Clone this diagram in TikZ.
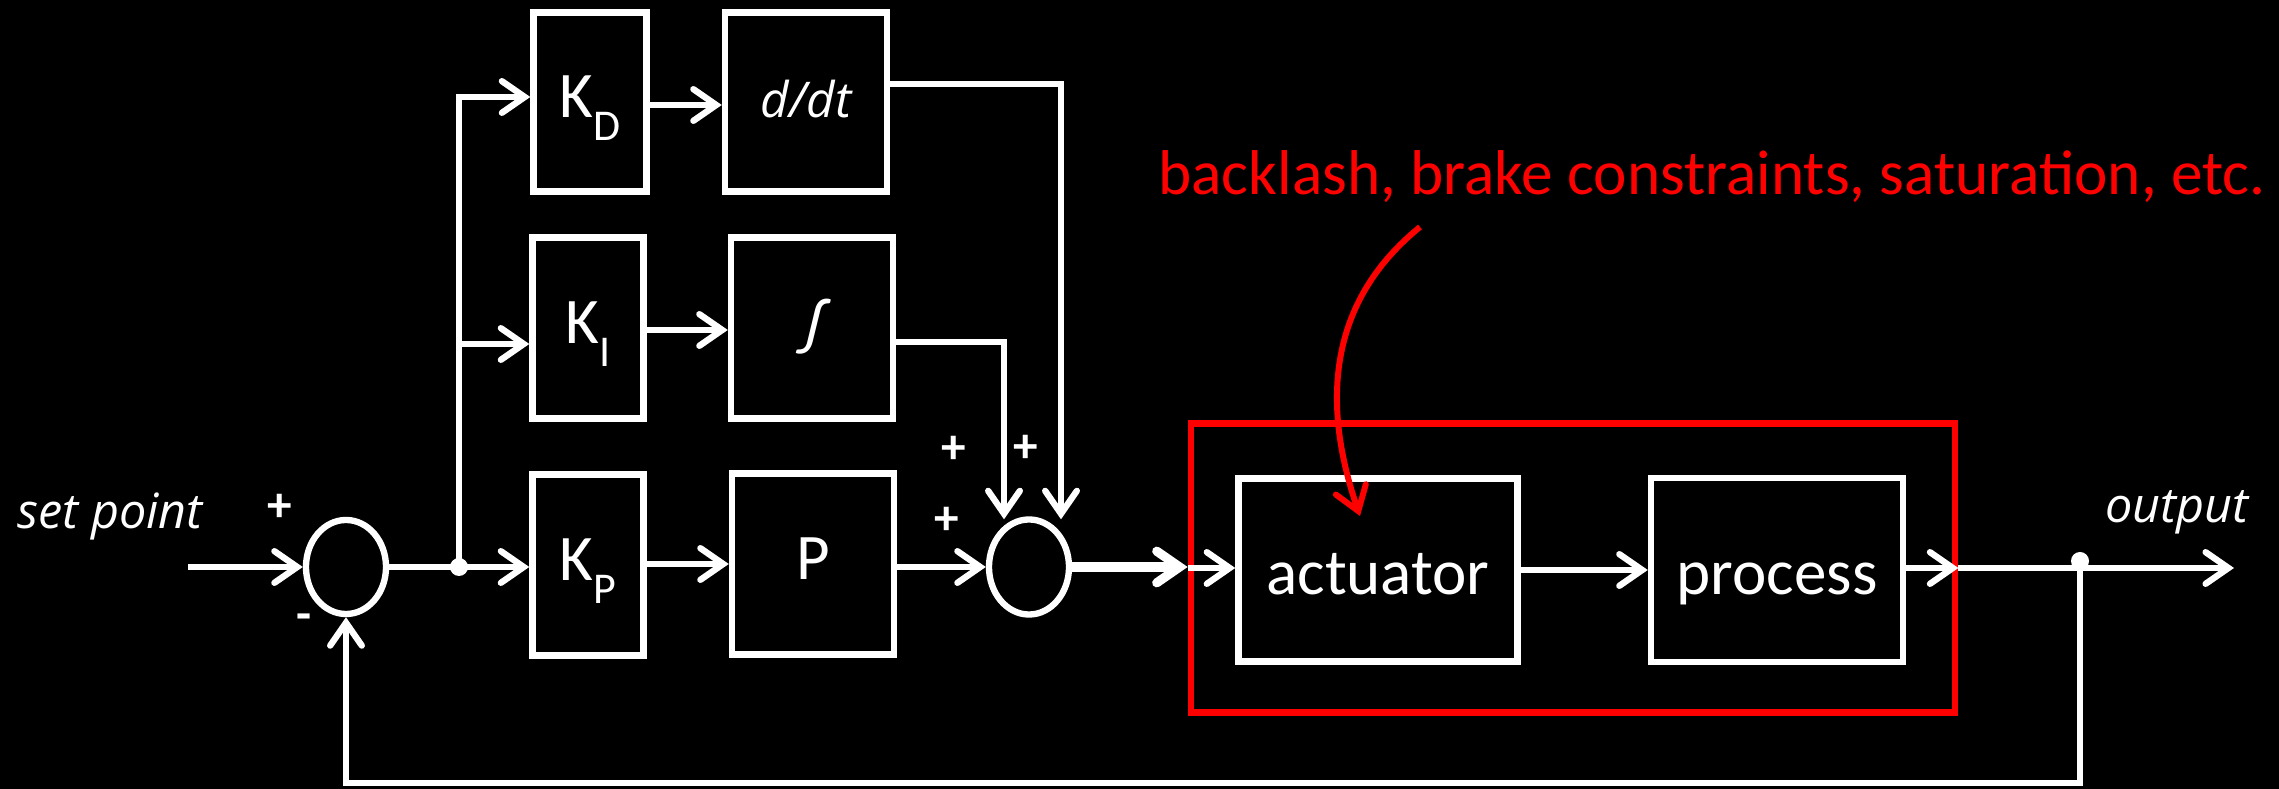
\documentclass[tikz,border=0pt]{standalone}
\usepackage{fontspec}
\setmainfont{Carlito}
\newfontfamily\osfont{Open Sans}
\usetikzlibrary{arrows.meta,shapes.geometric,calc}
\newcommand\sbs[1]{\raisebox{-6.5pt}{\fontsize{12.5}{14}\selectfont #1}}
\begin{document}
\begin{tikzpicture}[x=0.01cm,y=-0.01cm,
  wline/.style={draw=white,line width=1.8pt},
  tipw/.style={-{Straight Barb[length=6.5pt,width=9pt,line cap=round]}},
  arr/.style={wline,tipw},
  blk/.style={draw=white,line width=1.8pt,rectangle,inner sep=0pt,text=white,text height=13pt,text depth=4pt,font=\fontsize{18.5}{21}\selectfont},
  sumc/.style={draw=white,line width=1.8pt,ellipse,inner sep=0pt,minimum width=0.80cm,minimum height=0.94cm},
  dotn/.style={circle,fill=white,inner sep=0pt,minimum size=0.18cm},
  sign/.style={text=white,font=\bfseries\fontsize{14}{16}\selectfont,inner sep=0pt},
  lbl/.style={text=white,font=\osfont\itshape\fontsize{13.8}{16}\selectfont,inner sep=0pt}
]
\fill[black] (0,0) rectangle (2279,789);
\useasboundingbox (0,0) rectangle (2279,789);

% blocks
\node[blk,minimum width=1.13cm,minimum height=1.79cm] (KD) at (590,102) {K\sbs{D}};
\node[blk,minimum width=1.62cm,minimum height=1.79cm,font=\osfont\itshape\fontsize{14}{16}\selectfont] (dd) at (806,102) {d/dt};
\node[blk,minimum width=1.11cm,minimum height=1.81cm] (KI) at (588,328) {K\sbs{I}};
\node[blk,minimum width=1.62cm,minimum height=1.81cm] (int) at (812,328) {\itshape ∫};
\node[blk,minimum width=1.11cm,minimum height=1.81cm] (KP) at (588,565) {K\sbs{P}};
\node[blk,minimum width=1.62cm,minimum height=1.81cm] (P) at (813,564) {P};
\node[sumc] (sum1) at (346,567) {};
\node[sumc,minimum height=0.95cm] (sum2) at (1029,567) {};
\node[draw=red,line width=1.8pt,rectangle,inner sep=0pt,minimum width=7.64cm,minimum height=2.89cm] (sys) at (1573,568) {};
\node[blk,text height=18pt,minimum width=2.79cm,minimum height=1.83cm] (act) at (1378,570) {actuator};
\node[blk,text height=18pt,minimum width=2.52cm,minimum height=1.84cm] (proc) at (1777,570) {process};
\node[dotn] (dot1) at (459,567) {};
\node[dotn] (dot2) at (2080,561) {};

% labels
\node[lbl] (sp) at (110,516) {set point};
\node[lbl] (outl) at (2177,512) {output};
\node[sign] (p1) at (280,508) {+};
\node[sign] (m1) at (304,622) {-};
\node[sign] (p2) at (954,450) {+};
\node[sign] (p3) at (1026,449) {+};
\node[sign] (p4) at (947,521) {+};
\node[text=red,font=\fontsize{18}{21}\selectfont,inner sep=0pt] (note) at (1712,177) {backlash, brake constraints, saturation, etc.};

\coordinate (in) at (188,567);
\coordinate (out) at (2234,568);
\coordinate (fb) at (1200,783);
\coordinate (rs) at (1420,227);
\coordinate (rt) at (1360,516);

% connectors
\draw[arr] (in) -- (sum1.west);
\draw[wline] (sum1.east) -- (dot1.center);
\draw[arr] (dot1.center) -- (KP.west |- dot1);
\draw[arr] (dot1.center) |- (KD.west |- 0,97);
\draw[arr] (dot1.center |- 0,344) -- (KI.west |- 0,344);
\draw[arr] (KD.east |- 0,105) -- (dd.west |- 0,105);
\draw[arr] (KI.east |- 0,330) -- (int.west |- 0,330);
\draw[arr] (KP.east |- 0,564) -- (P.west |- 0,564);
\draw[arr] (dd.east |- 0,84) -| ($(sum2.north)+(32,3)$);
\draw[arr] (int.east |- 0,342) -| ($(sum2.north)+(-25,3)$);
\draw[arr] (P.east |- 0,567) -- (sum2.west);
\draw[white,line width=2.6pt,tipw] (sum2.east) -- (sys.west |- sum2.east);
\draw[arr] (sys.west |- 0,568) -- (act.west |- 0,568);
\draw[arr] (act.east) -- (proc.west);
\draw[arr] (proc.east |- 0,568) -- (sys.east |- 0,568);
\draw[arr] (sys.east |- 0,568) -- (out);
\draw[arr] (dot2.center) |- (fb) -| (sum1.south);
\draw[red,line width=1.7pt,tipw] (rs) .. controls (1330,300) and (1320,400) .. (rt);
\end{tikzpicture}
\end{document}
